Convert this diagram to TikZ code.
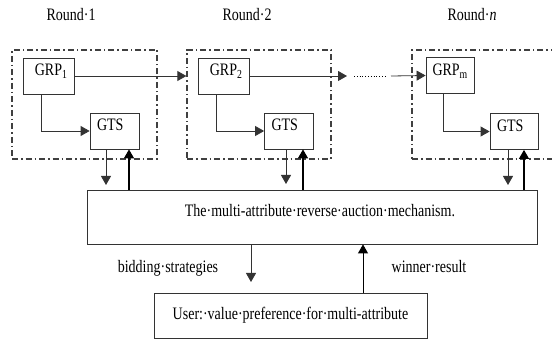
\documentclass[tikz,border=0pt]{standalone}
\usepackage{fontspec}
\setmainfont{Liberation Serif}[FakeStretch=0.8]
\usepackage{tikz}
\usetikzlibrary{arrows.meta}
\tikzset{
  rnd/.style={draw=black!75, line width=1.3pt, dash pattern=on 6pt off 3pt on 1.5pt off 3pt, inner sep=0pt},
  blk/.style={draw=black!80, line width=0.8pt, text height=12pt, text depth=12pt},
  grp/.style={blk, minimum width=51pt, minimum height=36pt, text width=38pt, inner xsep=6.5pt, align=right},
  gts/.style={blk, minimum width=49pt, minimum height=36pt, text width=35pt, inner xsep=7pt, align=left},
  arr/.style={-{Triangle[length=9pt,width=10pt]}, line width=0.8pt, draw=black!80},
  thk/.style={arr, line width=1.4pt, draw=black}
}
\begin{document}
\begin{tikzpicture}[x=1pt, y=-1pt, font=\fontsize{17.5}{20}\selectfont]
                \useasboundingbox (0,0) rectangle (552,339);
                \node (lab1) at (71,15) {Round·1};
                \node (lab2) at (247,15) {Round·2};
                \node (lab3) at (472,15) {Round·\textit{n}};
                \node[rnd, minimum width=145pt, minimum height=109pt] (rnd1) at (84.5,104.5) {};
                \node[rnd, minimum width=144pt, minimum height=109pt] (rnd2) at (259,104.5) {};
                \node[rnd, minimum width=146pt, minimum height=109pt] (rnd3) at (485,104.5) {};
                \node[grp] (grp1) at (48.5,76) {GRP\textsubscript{1}};
                \node[grp] (grp2) at (223.5,76) {GRP\textsubscript{2}};
                \node[grp, minimum width=48pt, text width=35pt] (grpm) at (450,75.5) {GRP\textsubscript{m}};
                \node[gts] (gts1) at (114.5,131) {GTS};
                \node[gts] (gts2) at (289,131) {GTS};
                \node[gts, minimum width=48pt, text width=34pt] (gts3) at (514,131.5) {GTS};
                \node[blk, minimum width=450pt, minimum height=54pt, text width=286pt, inner xsep=82pt, align=right] (mech) at (312,217)
                    {The·multi-attribute·reverse·auction·mechanism.};
                \node[blk, minimum width=273pt, minimum height=45pt, text height=, text depth=] (user) at (290.5,315.5)
                    {User:·value·preference·for·multi-attribute};
                \node (bid) at (168,268) {bidding·strategies};
                \node (win) at (429,267) {winner·result};
                \coordinate (gap1) at (347,76);
                \coordinate (dot1) at (354,76);
                \coordinate (dot2) at (387,76);
                \coordinate (dot3) at (391,76);
                \draw[arr] ([xshift=-7pt]grp1.south) |- (gts1.west);
                \draw[arr] ([xshift=-7pt]grp2.south) |- (gts2.west);
                \draw[arr] ([xshift=-7pt]grpm.south) |- (gts3.west);
                \draw[arr] (grp1.east) -- (grp1.east -| rnd2.west);
                \draw[arr] (grp2.east) -- (gap1);
                \draw[line width=0.8pt, dotted] (dot1) -- (dot2);
                \draw[arr] (dot3) -- (grpm.west);
                \draw[arr] (gts1.south -| 106,0) -- (106,185);
                \draw[arr] (gts2.south -| 286,0) -- (286,184);
                \draw[arr] (gts3.south -| 508,0) -- (508,185);
                \draw[thk] (mech.north -| 129,0) -- (gts1.south -| 129,0);
                \draw[thk] (mech.north -| 303,0) -- (gts2.south -| 303,0);
                \draw[thk] (mech.north -| 524,0) -- (gts3.south -| 524,0);
                \draw[arr] (mech.south -| 251,0) -- (251,282);
                \draw[thk, line width=0.9pt] (user.north -| 363,0) -- (mech.south -| 363,0);
            \end{tikzpicture}
\end{document}
